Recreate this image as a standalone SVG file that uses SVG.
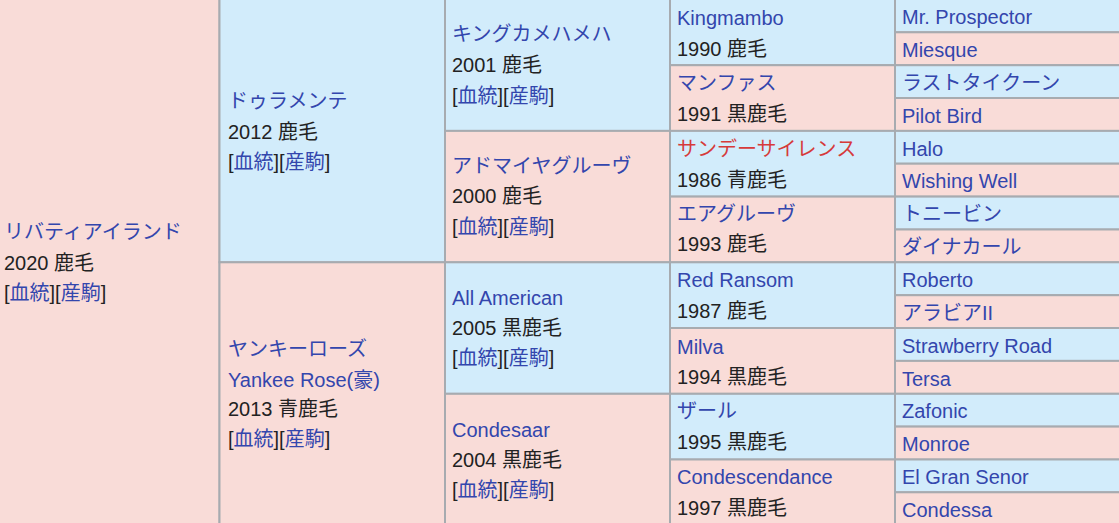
<svg xmlns="http://www.w3.org/2000/svg" width="1119" height="523" viewBox="0 0 1119 523">
<style>
.m{fill:#d2ecfb;stroke:#a7abb0;stroke-width:2}
.f{fill:#f9dcd8;stroke:#a7abb0;stroke-width:2}
text{font-family:"Liberation Sans","Noto Sans CJK JP",sans-serif;font-size:20px;fill:#222}
.l{fill:#3346ad}
.r{fill:#d63a3a}
</style>
<rect width="1119" height="523" fill="#f9dcd8"/>
<g id="n-liberty"><rect class="f" x="-2" y="-2" width="221.5" height="528"/>
<text x="4" y="239" class="l">リバティアイランド</text><text x="4" y="270">2020 鹿毛</text><text x="4" y="300">[<tspan class="l">血統</tspan>][<tspan class="l">産駒</tspan>]</text></g>
<g id="n-duramente"><rect class="m" x="219.5" y="-2" width="225.5" height="264.3"/>
<text x="228" y="108" class="l">ドゥラメンテ</text><text x="228" y="138.5">2012 鹿毛</text><text x="228" y="168.5">[<tspan class="l">血統</tspan>][<tspan class="l">産駒</tspan>]</text></g>
<g id="n-yankeerose"><rect class="f" x="219.5" y="262.3" width="225.5" height="264"/>
<text x="228" y="356" class="l">ヤンキーローズ</text><text x="228" y="386.5" class="l">Yankee Rose(豪)</text><text x="228" y="416">2013 青鹿毛</text><text x="228" y="446">[<tspan class="l">血統</tspan>][<tspan class="l">産駒</tspan>]</text></g>
<g id="n-kingkamehameha"><rect class="m" x="445" y="-2" width="225" height="132.9"/>
<text x="452" y="41" class="l">キングカメハメハ</text><text x="452" y="72">2001 鹿毛</text><text x="452" y="103">[<tspan class="l">血統</tspan>][<tspan class="l">産駒</tspan>]</text></g>
<g id="n-admiregroove"><rect class="f" x="445" y="130.9" width="225" height="131.4"/>
<text x="452" y="172.5" class="l">アドマイヤグルーヴ</text><text x="452" y="203">2000 鹿毛</text><text x="452" y="234">[<tspan class="l">血統</tspan>][<tspan class="l">産駒</tspan>]</text></g>
<g id="n-allamerican"><rect class="m" x="445" y="262.3" width="225" height="131.5"/>
<text x="452" y="305" class="l">All American</text><text x="452" y="335">2005 黒鹿毛</text><text x="452" y="365">[<tspan class="l">血統</tspan>][<tspan class="l">産駒</tspan>]</text></g>
<g id="n-condesaar"><rect class="f" x="445" y="393.8" width="225" height="132"/>
<text x="452" y="437" class="l">Condesaar</text><text x="452" y="467">2004 黒鹿毛</text><text x="452" y="497">[<tspan class="l">血統</tspan>][<tspan class="l">産駒</tspan>]</text></g>
<g id="n-kingmambo"><rect class="m" x="670" y="-2" width="225" height="67.2"/>
<text x="677" y="24.5" class="l">Kingmambo</text><text x="677" y="55.5">1990 鹿毛</text></g>
<g id="n-manfath"><rect class="f" x="670" y="65.2" width="225" height="65.7"/>
<text x="677" y="89.5" class="l">マンファス</text><text x="677" y="120.5">1991 黒鹿毛</text></g>
<g id="n-sundaysilence"><rect class="m" x="670" y="130.9" width="225" height="65.7"/>
<text x="677" y="155.5" class="r">サンデーサイレンス</text><text x="677" y="186.5">1986 青鹿毛</text></g>
<g id="n-airgroove"><rect class="f" x="670" y="196.6" width="225" height="65.7"/>
<text x="677" y="221" class="l">エアグルーヴ</text><text x="677" y="251">1993 鹿毛</text></g>
<g id="n-redransom"><rect class="m" x="670" y="262.3" width="225" height="65.7"/>
<text x="677" y="287" class="l">Red Ransom</text><text x="677" y="318">1987 鹿毛</text></g>
<g id="n-milva"><rect class="f" x="670" y="328" width="225" height="65.8"/>
<text x="677" y="354" class="l">Milva</text><text x="677" y="384">1994 黒鹿毛</text></g>
<g id="n-zar"><rect class="m" x="670" y="393.8" width="225" height="65.7"/>
<text x="677" y="418" class="l">ザール</text><text x="677" y="448.5">1995 黒鹿毛</text></g>
<g id="n-condescendance"><rect class="f" x="670" y="459.5" width="225" height="66"/>
<text x="677" y="484" class="l">Condescendance</text><text x="677" y="514.5">1997 黒鹿毛</text></g>
<g id="n-mrprospector"><rect class="m" x="895" y="-2" width="230" height="34.3"/><text x="902" y="24" class="l">Mr. Prospector</text></g>
<g id="n-miesque"><rect class="f" x="895" y="32.3" width="230" height="32.9"/><text x="902" y="57" class="l">Miesque</text></g>
<g id="n-lasttycoon"><rect class="m" x="895" y="65.2" width="230" height="32.8"/><text x="902" y="89.5" class="l">ラストタイクーン</text></g>
<g id="n-pilotbird"><rect class="f" x="895" y="98" width="230" height="32.9"/><text x="902" y="122.5" class="l">Pilot Bird</text></g>
<g id="n-halo"><rect class="m" x="895" y="130.9" width="230" height="32.8"/><text x="902" y="155.5" class="l">Halo</text></g>
<g id="n-wishingwell"><rect class="f" x="895" y="163.7" width="230" height="32.9"/><text x="902" y="188" class="l">Wishing Well</text></g>
<g id="n-tonybin"><rect class="m" x="895" y="196.6" width="230" height="32.9"/><text x="902" y="221" class="l">トニービン</text></g>
<g id="n-dynacarl"><rect class="f" x="895" y="229.5" width="230" height="32.8"/><text x="902" y="254" class="l">ダイナカール</text></g>
<g id="n-roberto"><rect class="m" x="895" y="262.3" width="230" height="32.9"/><text x="902" y="287" class="l">Roberto</text></g>
<g id="n-arabia"><rect class="f" x="895" y="295.2" width="230" height="32.8"/><text x="902" y="319.5" class="l">アラビアII</text></g>
<g id="n-strawberryroad"><rect class="m" x="895" y="328" width="230" height="32.9"/><text x="902" y="352.5" class="l">Strawberry Road</text></g>
<g id="n-tersa"><rect class="f" x="895" y="360.9" width="230" height="32.9"/><text x="902" y="385.5" class="l">Tersa</text></g>
<g id="n-zafonic"><rect class="m" x="895" y="393.8" width="230" height="32.8"/><text x="902" y="418" class="l">Zafonic</text></g>
<g id="n-monroe"><rect class="f" x="895" y="426.6" width="230" height="32.9"/><text x="902" y="451" class="l">Monroe</text></g>
<g id="n-elgransenor"><rect class="m" x="895" y="459.5" width="230" height="32.8"/><text x="902" y="484" class="l">El Gran Senor</text></g>
<g id="n-condessa"><rect class="f" x="895" y="492.3" width="230" height="33"/><text x="902" y="517" class="l">Condessa</text></g>
<g id="connectors"/>
</svg>
